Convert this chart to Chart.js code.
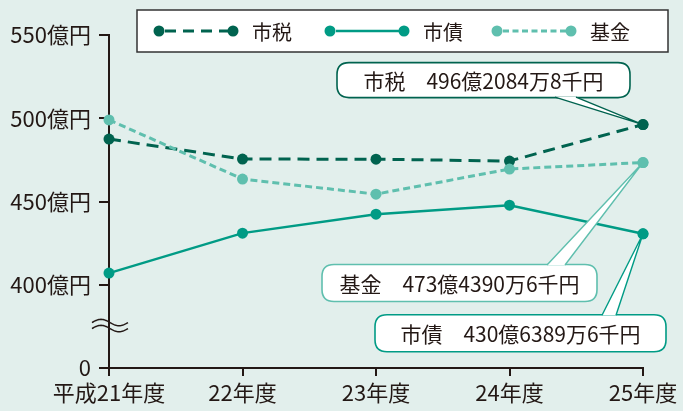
<!DOCTYPE html>
<html><head><meta charset="utf-8">
<script src="https://cdn.jsdelivr.net/npm/chart.js@4"></script>
<style>html,body{margin:0;padding:0;background:#e2efec;}#wrap{width:683px;height:411px;}</style>
</head><body><div id="wrap"><canvas id="c" width="683" height="411"></canvas></div>
<script>
const categories = ['平成21年度', '22年度', '23年度', '24年度', '25年度'];
const shizei = [487.5, 475.5, 475.4, 474.3, 496.2];   // 市税
const shisai = [407.0, 431.0, 442.4, 447.8, 430.6];   // 市債
const kikin  = [499.0, 463.5, 454.4, 469.5, 473.4];   // 基金
const seriesNames = ['市税', '市債', '基金'];
const calloutTexts = ['市税　496億2084万8千円', '市債　430億6389万6千円', '基金　473億4390万6千円'];
const yMin = 350, yMax = 550, yStep = 50;

const C_ZEI = '#00634f', C_SAI = '#009b85', C_KIN = '#5fbfae';
const INK = '#231815';
const FONT = '"Noto Sans CJK JP", "Noto Sans", sans-serif';

const bgPlugin = {
  id: 'bg',
  beforeDraw(chart) {
    const ctx = chart.ctx;
    ctx.save(); ctx.fillStyle = '#e2efec'; ctx.fillRect(0, 0, chart.width, chart.height); ctx.restore();
  }
};

function roundRect(ctx, x, y, w, h, r) {
  ctx.beginPath();
  ctx.moveTo(x + r, y);
  ctx.lineTo(x + w - r, y); ctx.quadraticCurveTo(x + w, y, x + w, y + r);
  ctx.lineTo(x + w, y + h - r); ctx.quadraticCurveTo(x + w, y + h, x + w - r, y + h);
  ctx.lineTo(x + r, y + h); ctx.quadraticCurveTo(x, y + h, x, y + h - r);
  ctx.lineTo(x, y + r); ctx.quadraticCurveTo(x, y, x + r, y);
  ctx.closePath();
}

function callout(ctx, P, box, base, color, text) {
  ctx.save();
  roundRect(ctx, box[0], box[1], box[2], box[3], 12);
  ctx.fillStyle = '#fff'; ctx.fill();
  ctx.lineWidth = 1.6; ctx.strokeStyle = color; ctx.stroke();
  // pointer wedge
  ctx.beginPath();
  ctx.moveTo(base[0][0], base[0][1]); ctx.lineTo(P[0], P[1]); ctx.lineTo(base[1][0], base[1][1]);
  ctx.closePath(); ctx.fillStyle = '#fff'; ctx.fill();
  ctx.beginPath();
  ctx.moveTo(base[0][0], base[0][1]); ctx.lineTo(P[0], P[1]); ctx.lineTo(base[1][0], base[1][1]);
  ctx.lineWidth = 1.4; ctx.stroke();
  ctx.fillStyle = INK; ctx.font = '21px ' + FONT; ctx.textAlign = 'center'; ctx.textBaseline = 'middle';
  ctx.fillText(text, box[0] + box[2] / 2, box[1] + box[3] / 2 + 1);
  ctx.restore();
}

const decoPlugin = {
  id: 'deco',
  afterDatasetsDraw(chart) {
    const ctx = chart.ctx;
    const xs = chart.scales.x, ys = chart.scales.y;
    const last = categories.length - 1;
    const px = xs.getPixelForValue(last);
    // 市税 callout
    let py = ys.getPixelForValue(shizei[last]);
    callout(ctx, [px, py], [px - 306, py - 62, 293, 35], [[px - 88, py - 27.5], [px - 67, py - 27.5]], C_ZEI, calloutTexts[0]);
    // 基金 callout
    py = ys.getPixelForValue(kikin[last]);
    callout(ctx, [px, py], [px - 321, py + 102, 275, 37], [[px - 96, py + 102.5], [px - 78, py + 102.5]], C_KIN, calloutTexts[2]);
    // 市債 callout
    py = ys.getPixelForValue(shisai[last]);
    callout(ctx, [px, py], [px - 268, py + 81, 291, 37], [[px - 41, py + 81.5], [px - 27, py + 81.5]], C_SAI, calloutTexts[1]);
    // redraw end points on top
    [[shizei, C_ZEI], [kikin, C_KIN], [shisai, C_SAI]].forEach(([d, c]) => {
      ctx.save(); ctx.fillStyle = c; ctx.beginPath();
      ctx.arc(px, ys.getPixelForValue(d[last]), 5.5, 0, Math.PI * 2); ctx.fill(); ctx.restore();
    });

    // axis break symbol
    const ax = chart.chartArea.left;
    const yb = ys.getPixelForValue(375.5);
    ctx.save(); ctx.strokeStyle = INK; ctx.lineWidth = 1.5;
    [-3, 3].forEach(off => {
      ctx.beginPath();
      for (let t = 0; t <= 36; t++) {
        const x = ax - 17 + t;
        const y = yb + off - 3.2 * Math.sin(t / 36 * Math.PI * 2);
        if (t === 0) ctx.moveTo(x, y); else ctx.lineTo(x, y);
      }
      ctx.stroke();
    });
    ctx.restore();

    // legend
    ctx.save();
    ctx.fillStyle = '#fff'; ctx.fillRect(137, 10, 531, 42);
    ctx.strokeStyle = '#333'; ctx.lineWidth = 1.5; ctx.strokeRect(137, 10, 531, 42);
    const items = [
      { x: 159, c: C_ZEI, dash: [11, 7], w: 3 },
      { x: 330, c: C_SAI, dash: [], w: 2.5 },
      { x: 497, c: C_KIN, dash: [6, 3.5], w: 3 }
    ];
    const ly = 31;
    items.forEach((it, i) => {
      ctx.strokeStyle = it.c; ctx.fillStyle = it.c; ctx.lineWidth = it.w;
      ctx.setLineDash(it.dash);
      ctx.beginPath(); ctx.moveTo(it.x + 6, ly); ctx.lineTo(it.x + 70, ly); ctx.stroke();
      ctx.setLineDash([]);
      ctx.beginPath(); ctx.arc(it.x, ly, 5.5, 0, Math.PI * 2); ctx.fill();
      ctx.beginPath(); ctx.arc(it.x + 74, ly, 5.5, 0, Math.PI * 2); ctx.fill();
      ctx.fillStyle = INK; ctx.font = '20px ' + FONT; ctx.textAlign = 'left'; ctx.textBaseline = 'middle';
      ctx.fillText(seriesNames[i], it.x + 93, ly + 1);
    });
    ctx.restore();
  }
};

function ds(label, data, color, dash, w) {
  return {
    label, data, borderColor: color, backgroundColor: color, borderWidth: w, borderDash: dash,
    pointRadius: 5.5, pointHoverRadius: 5.5, pointBackgroundColor: color, pointBorderWidth: 0,
    tension: 0, clip: false
  };
}

new Chart(document.getElementById('c'), {
  type: 'line',
  data: {
    labels: categories,
    datasets: [
      ds(seriesNames[2], kikin, C_KIN, [7, 4], 3),
      ds(seriesNames[1], shisai, C_SAI, [], 2.5),
      ds(seriesNames[0], shizei, C_ZEI, [12, 7], 3)
    ]
  },
  options: {
    responsive: false, animation: false, devicePixelRatio: 1,
    layout: { padding: { top: 35, right: 40, left: 0, bottom: 0 } },
    plugins: { legend: { display: false }, tooltip: { enabled: false } },
    scales: {
      x: {
        type: 'category', offset: false,
        grid: { drawOnChartArea: false, drawTicks: true, tickLength: 8, color: INK, lineWidth: 2 },
        border: { color: INK, width: 2 },
        ticks: { color: INK, font: { family: FONT, size: 22 }, padding: 3, maxRotation: 0, autoSkip: false },
        afterFit(s) { s.height = 43; }
      },
      y: {
        min: yMin, max: yMax,
        grid: { drawOnChartArea: false, drawTicks: true, tickLength: 10, color: INK, lineWidth: 2 },
        border: { color: INK, width: 2 },
        ticks: {
          stepSize: yStep, color: INK, font: { family: FONT, size: 22 }, padding: 8,
          callback: v => v === yMin ? '0' : v + '億円'
        },
        afterFit(s) { s.width = 109; }
      }
    }
  },
  plugins: [bgPlugin, decoPlugin]
});
</script></body></html>
